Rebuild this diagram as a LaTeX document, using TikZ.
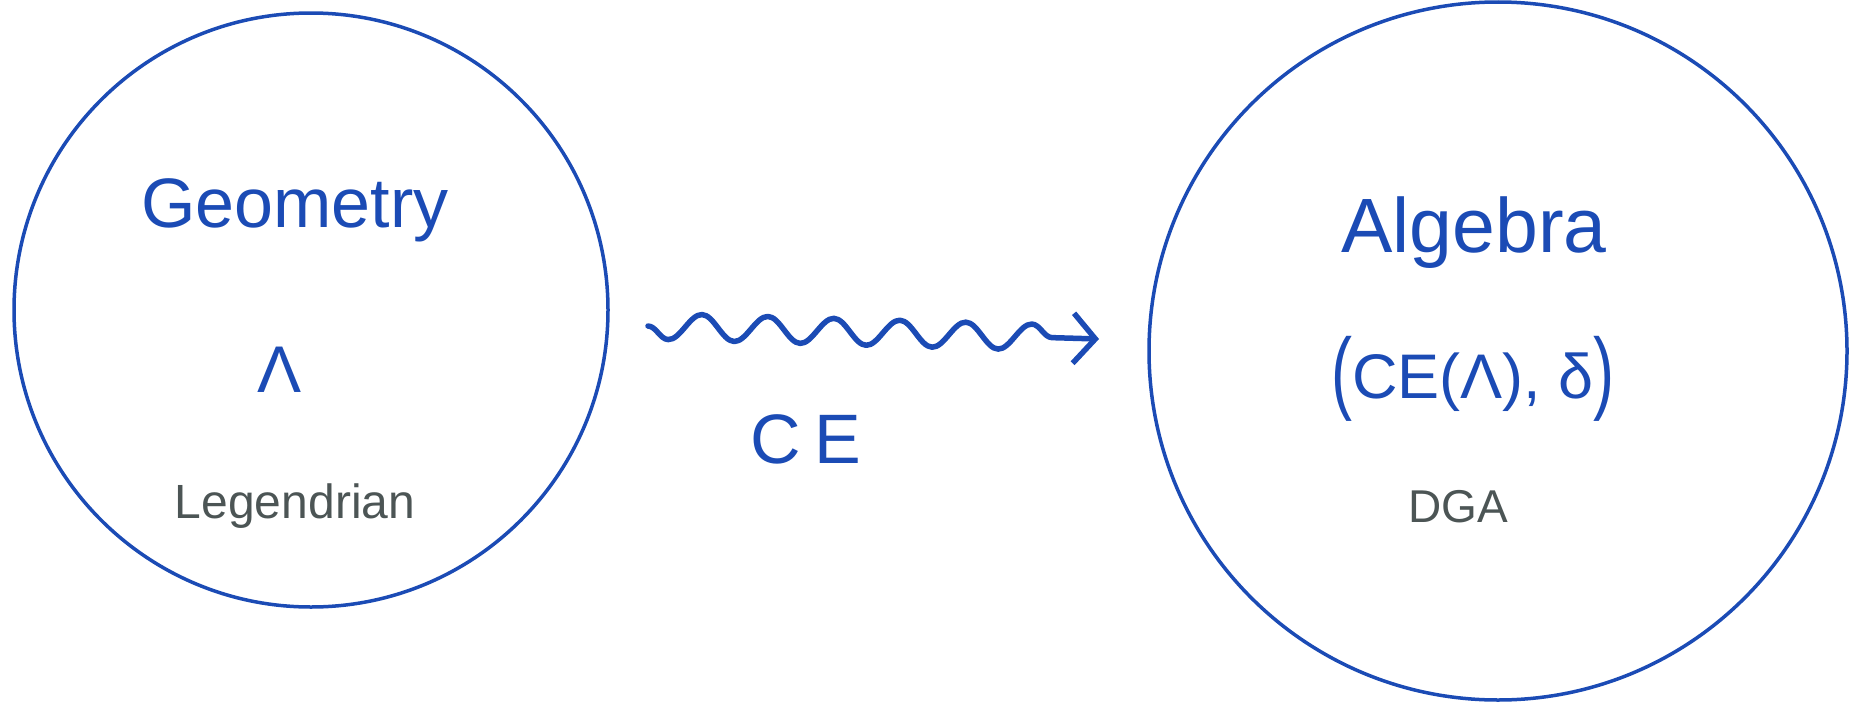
\documentclass[tikz,border=0pt]{standalone}
\usepackage{fontspec}
\setmainfont{Liberation Sans}
\usetikzlibrary{decorations.pathmorphing,arrows.meta}
\definecolor{inkblue}{RGB}{27,75,181}
\definecolor{inkgray}{RGB}{76,85,85}
\newcommand{\tallparen}[1]{\raisebox{-4pt}{\scalebox{1}[1.45]{#1}}}
\begin{document}
\begin{tikzpicture}[x=1pt,y=-1pt,
  ring/.style={circle,draw=inkblue,line width=3.5pt,inner sep=0pt},
  bluetxt/.style={text=inkblue,anchor=base,inner sep=0pt},
  graytxt/.style={text=inkgray,anchor=base,inner sep=0pt},
  wavy/.style={draw=inkblue,line width=5.5pt,line cap=round,line join=round,
    decorate,decoration={snake,segment length=66pt,amplitude=13pt,mirror,post length=40pt},
    -{Straight Barb[length=22pt,width=50pt,line width=5.5pt]}}]
\useasboundingbox (0,0) rectangle (1853,704);
\node[ring,minimum size=594pt] (L) at (311,310) {};
\node[ring,minimum size=698pt] (R) at (1498,351) {};
\node[bluetxt] (geo) at (295,227) {\fontsize{70}{84}\selectfont Geometry};
\node[bluetxt] (lam) at (280,392) {\fontsize{66}{80}\selectfont Λ};
\node[graytxt] (leg) at (295,518) {\fontsize{48}{58}\selectfont Legendrian};
\node[bluetxt] (alg) at (1474,252) {\fontsize{77}{92}\selectfont Algebra};
\node[bluetxt] (pair) at (1473,398) {\fontsize{63}{76}\selectfont\tallparen{(}CE(Λ), δ\tallparen{)}};
\node[graytxt] (dga) at (1458,522) {\fontsize{46}{56}\selectfont DGA};
\node[bluetxt] (ce) at (806,463) {\fontsize{70}{84}\selectfont C\kern14pt E};
\coordinate (ws) at (648,326);
\coordinate (we) at (1099,339);
\draw[wavy] (ws) -- (we);
\end{tikzpicture}
\end{document}
